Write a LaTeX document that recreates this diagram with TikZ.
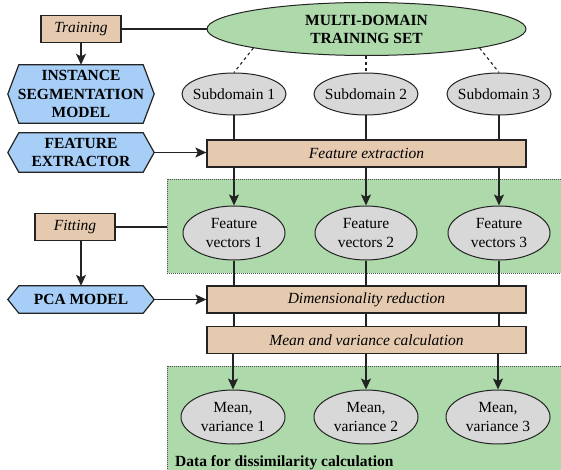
\documentclass[tikz,border=0pt]{standalone}
\usepackage{fontspec}
\setmainfont{Liberation Serif}
\usetikzlibrary{arrows.meta,shapes.geometric,backgrounds}
\definecolor{tanfill}{RGB}{229,202,176}
\definecolor{bluefill}{RGB}{166,206,246}
\definecolor{greenfill}{RGB}{174,217,171}
\definecolor{grayfill}{RGB}{216,216,216}
\definecolor{stroke}{RGB}{35,35,35}
\newcommand\hexoutline[1]{%
  \begin{scope}[on background layer]
    \path[hexfill] ([xshift=11pt]#1.north west) -- ([xshift=-11pt]#1.north east) -- (#1.east)
      -- ([xshift=-11pt]#1.south east) -- ([xshift=11pt]#1.south west) -- (#1.west) -- cycle;
  \end{scope}}
\begin{document}
\fontsize{15.5}{18.5}\selectfont
\begin{tikzpicture}[x=1pt,y=-1pt,
  box/.style={draw=stroke, fill=tanfill, line width=1.25pt, minimum height=27pt, inner sep=0pt, font=\itshape},
  oval/.style={ellipse, draw=stroke, fill=grayfill, line width=1pt, inner sep=0pt, inner xsep=-8pt,
               minimum width=104pt, align=center, font=\fontsize{15.5}{19.5}\selectfont},
  hexa/.style={minimum width=146pt, inner sep=0pt, align=center, font=\bfseries},
  hexfill/.style={draw=stroke, fill=bluefill, line width=1.2pt},
  arr/.style={line width=1.25pt, draw=stroke, -{Stealth[length=11pt,width=10pt,inset=2.5pt]}},
  conn/.style={line width=1.25pt, draw=stroke},
  dashconn/.style={line width=1.1pt, draw=stroke, dash pattern=on 3pt off 3pt},
  region/.style={fill=greenfill, draw=stroke!80, line width=0.8pt, dash pattern=on 1pt off 1pt, inner sep=0pt}
]
\useasboundingbox (0,0) rectangle (561,470);

% green regions
\begin{scope}[on background layer]
  \node[region, minimum width=396pt, minimum height=94pt] (green1) at (365,226) {};
  \node[region, minimum width=396pt, minimum height=108pt] (green2) at (365,420) {};
\end{scope}

% left column
\node[box, minimum width=80pt] (train) at (81,29) {Training};
\node[hexa, minimum height=58pt] (ism) at (81,94) {INSTANCE\\SEGMENTATION\\MODEL};
\hexoutline{ism}
\node[hexa, minimum height=39pt] (fe) at (81,152.5) {FEATURE\\EXTRACTOR};
\hexoutline{fe}
\node[box, minimum width=80pt] (fit) at (75,227) {Fitting};
\node[hexa, minimum height=27pt] (pca) at (81,299.5) {PCA MODEL};
\hexoutline{pca}

% main column
\node[ellipse, draw=stroke, fill=greenfill, line width=1pt, minimum width=319pt, minimum height=53pt,
      inner sep=0pt, align=center, font=\bfseries\fontsize{15.5}{18}\selectfont] (mdts) at (366.5,29) {MULTI-DOMAIN\\TRAINING SET};
\node[oval, minimum height=42pt] (sub1) at (234,94) {Subdomain 1};
\node[oval, minimum height=42pt] (sub2) at (366,94) {Subdomain 2};
\node[oval, minimum height=42pt] (sub3) at (499,94) {Subdomain 3};
\node[box, minimum width=319pt] (fex) at (366.5,153.5) {Feature extraction};
\node[oval, minimum height=54pt, minimum width=102pt] (fv1) at (234,233) {Feature\\vectors 1};
\node[oval, minimum height=54pt, minimum width=102pt] (fv2) at (366,233) {Feature\\vectors 2};
\node[oval, minimum height=54pt, minimum width=102pt] (fv3) at (499,233) {Feature\\vectors 3};
\node[box, minimum width=319pt] (dr) at (366.5,299.5) {Dimensionality reduction};
\node[box, minimum width=319pt] (mv) at (366.5,340) {Mean and variance calculation};
\node[oval, minimum height=54pt] (mean1) at (233,417) {Mean,\\variance 1};
\node[oval, minimum height=54pt] (mean2) at (366,417) {Mean,\\variance 2};
\node[oval, minimum height=54pt] (mean3) at (498,417) {Mean,\\variance 3};
\node[anchor=base west, inner sep=0pt, font=\bfseries] (datalabel) at (175,466) {Data for dissimilarity calculation};

% connectors
\draw[conn] (train.east) -- (mdts.west);
\draw[arr] (train.south) -- (ism.north);
\draw[arr] (fe.east) -- (fe.east -| fex.west);
\draw[conn] (fit.east) -- (fit.east -| green1.west);
\draw[arr] (fit.south -| pca.north) -- (pca.north);
\draw[arr] (pca.east) -- (pca.east -| dr.west);

\draw[dashconn] (mdts.south west) -- (sub1.north);
\draw[dashconn] (sub2.north |- mdts.south) -- (sub2.north);
\draw[dashconn] (mdts.south east) -- (sub3.north);

\foreach \i in {1,2,3}{
  \draw[conn] (sub\i.south) -- (sub\i.south |- fex.north);
  \draw[arr] (fv\i.north |- fex.south) -- (fv\i.north);
  \draw[conn] (fv\i.south) -- (fv\i.south |- dr.north);
  \draw[conn] (fv\i.south |- dr.south) -- (fv\i.south |- mv.north);
  \draw[arr] (mean\i.north |- mv.south) -- (mean\i.north);
}
\end{tikzpicture}
\end{document}
